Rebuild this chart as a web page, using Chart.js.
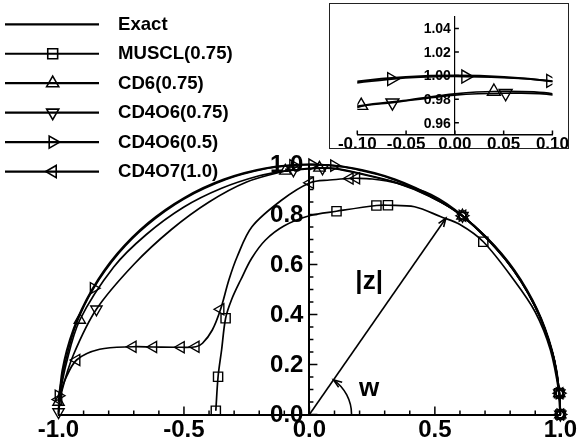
<!DOCTYPE html>
<html>
<head>
<meta charset="utf-8">
<script src="https://cdn.jsdelivr.net/npm/chart.js@4/dist/chart.umd.min.js"></script>
<style>
  html, body { margin: 0; padding: 0; background: #fff; }
  #wrap { position: relative; width: 578px; height: 445px; overflow: hidden; }
  #main { position: absolute; left: 0; top: 0; }
  #inset { position: absolute; left: 329px; top: 3px; }
</style>
</head>
<body>
<div id="wrap">
  <canvas id="main" width="578" height="445"></canvas>
  <canvas id="inset" width="240" height="146"></canvas>
</div>
<script>
// ---- data: curves in the (Re, Im) plane, plus the sampled points marked on each ----
const seriesNames = ['Exact', 'MUSCL(0.75)', 'CD6(0.75)', 'CD4O6(0.75)', 'CD4O6(0.5)', 'CD4O7(1.0)'];

const exactX = [1, 0.985, 0.940, 0.866, 0.766, 0.643, 0.5, 0.342, 0.174, 0, -0.174, -0.342, -0.5, -0.643, -0.766, -0.866, -0.940, -0.985, -1];
const exactY = [0, 0.174, 0.342, 0.5, 0.643, 0.766, 0.866, 0.940, 0.985, 1, 0.985, 0.940, 0.866, 0.766, 0.643, 0.5, 0.342, 0.174, 0];

const musclX = [1, 0.995, 0.96, 0.9, 0.815, 0.693, 0.6, 0.524, 0.419, 0.313, 0.267, 0.108, 0, -0.1, -0.175, -0.23, -0.274, -0.31, -0.334, -0.35, -0.364, -0.373];
const musclY = [0, 0.085, 0.26, 0.41, 0.538, 0.691, 0.76, 0.791, 0.831, 0.837, 0.836, 0.813, 0.795, 0.755, 0.698, 0.625, 0.538, 0.46, 0.385, 0.258, 0.151, 0.015];
const musclMarkX = [1, 0.995, 0.693, 0.313, 0.267, 0.108, -0.334, -0.364, -0.373];
const musclMarkY = [0, 0.085, 0.691, 0.837, 0.836, 0.813, 0.385, 0.151, 0.015];

const cd6X = [1, 0.996, 0.97, 0.90, 0.78, 0.61, 0.48, 0.35, 0.2, 0.1, 0.04, 0, -0.05, -0.096, -0.2, -0.35, -0.5, -0.65, -0.78, -0.915, -0.97, -1.0];
const cd6Y = [0, 0.085, 0.242, 0.432, 0.622, 0.795, 0.873, 0.927, 0.965, 0.9845, 0.9865, 0.9845, 0.979, 0.9745, 0.955, 0.905, 0.83, 0.72, 0.59, 0.378, 0.2, 0.05];
const cd6MarkX = [1, 0.996, 0.61, 0.04, -0.096, -0.915, -1.0];
const cd6MarkY = [0, 0.085, 0.795, 0.9865, 0.9745, 0.378, 0.05];

const cd4o6aX = [1, 0.996, 0.97, 0.90, 0.78, 0.61, 0.48, 0.35, 0.2, 0.1, 0.052, 0, -0.064, -0.1, -0.25, -0.4, -0.55, -0.7, -0.849, -0.94, -0.985, -1.0];
const cd4o6aY = [0, 0.085, 0.241, 0.431, 0.621, 0.795, 0.872, 0.925, 0.963, 0.9835, 0.985, 0.9835, 0.977, 0.973, 0.93, 0.85, 0.74, 0.6, 0.421, 0.24, 0.1, 0.01];
const cd4o6aMarkX = [1, 0.996, 0.61, 0.052, -0.064, -0.849, -1.0];
const cd4o6aMarkY = [0, 0.085, 0.795, 0.985, 0.977, 0.421, 0.01];

const cd4o6bX = [1, 0.997, 0.97, 0.90, 0.78, 0.61, 0.45, 0.30, 0.18, 0.098, 0.011, -0.065, -0.17, -0.33, -0.5, -0.65, -0.76, -0.86, -0.93, -0.975, -1.0];
const cd4o6bY = [0, 0.085, 0.242, 0.433, 0.624, 0.795, 0.891, 0.952, 0.982, 0.9955, 0.9992, 0.997, 0.984, 0.941, 0.862, 0.755, 0.645, 0.505, 0.36, 0.2, 0.075];
const cd4o6bMarkX = [1, 0.997, 0.61, 0.098, 0.011, -0.065, -0.86, -1.0];
const cd4o6bMarkY = [0, 0.085, 0.795, 0.9955, 0.9992, 0.997, 0.505, 0.075];

const cd4o7X = [1, 0.997, 0.97, 0.90, 0.78, 0.61, 0.485, 0.35, 0.25, 0.187, 0.161, 0.08, 0.003, -0.11, -0.229, -0.288, -0.321, -0.354, -0.387, -0.426, -0.453, -0.512, -0.622, -0.704, -0.836, -0.928, -0.974, -1.0];
const cd4o7Y = [0, 0.085, 0.242, 0.432, 0.622, 0.795, 0.88, 0.925, 0.942, 0.945, 0.944, 0.938, 0.927, 0.858, 0.751, 0.631, 0.538, 0.421, 0.338, 0.285, 0.271, 0.269, 0.27, 0.271, 0.261, 0.218, 0.138, 0.06];
const cd4o7MarkX = [1, 0.997, 0.61, 0.187, 0.161, 0.003, -0.354, -0.453, -0.512, -0.622, -0.704, -0.928, -1.0];
const cd4o7MarkY = [0, 0.085, 0.795, 0.945, 0.944, 0.927, 0.421, 0.271, 0.269, 0.27, 0.271, 0.218, 0.06];

// axis ticks
const mainXTicks = [-1, -0.5, 0, 0.5, 1];
const mainXMinor = [-0.9, -0.8, -0.7, -0.6, -0.4, -0.3, -0.2, -0.1, 0.1, 0.2, 0.3, 0.4, 0.6, 0.7, 0.8, 0.9];
const mainYTicks = [0, 0.2, 0.4, 0.6, 0.8, 1.0];
const mainYMinor = [0.05, 0.1, 0.15, 0.25, 0.3, 0.35, 0.45, 0.5, 0.55, 0.65, 0.7, 0.75, 0.85, 0.9, 0.95];
const insetXTicks = [-0.10, -0.05, 0.00, 0.05, 0.10];
const insetYTicks = [0.96, 0.98, 1.00, 1.02, 1.04];

// annotation: radius vector |z| and angle w
const arrowTip = [0.544, 0.785];
const arcRadius = 0.168;
const zLabelAt = [0.238, 0.53];
const wLabelAt = [0.238, 0.102];

// ---- building the datasets ----
const FONT = '"Liberation Sans", Arial, Helvetica, sans-serif';
const pts = (xs, ys) => xs.map((x, i) => ({ x: x, y: ys[i] }));

const series = [
  { name: seriesNames[0], x: exactX, y: exactY, mx: [], my: [], style: null, rot: 0 },
  { name: seriesNames[1], x: musclX, y: musclY, mx: musclMarkX, my: musclMarkY, style: 'rect', rot: 0 },
  { name: seriesNames[2], x: cd6X, y: cd6Y, mx: cd6MarkX, my: cd6MarkY, style: 'triangle', rot: 0 },
  { name: seriesNames[3], x: cd4o6aX, y: cd4o6aY, mx: cd4o6aMarkX, my: cd4o6aMarkY, style: 'triangle', rot: 180 },
  { name: seriesNames[4], x: cd4o6bX, y: cd4o6bY, mx: cd4o6bMarkX, my: cd4o6bMarkY, style: 'triangle', rot: 90 },
  { name: seriesNames[5], x: cd4o7X, y: cd4o7Y, mx: cd4o7MarkX, my: cd4o7MarkY, style: 'triangle', rot: 270 }
];

function buildDatasets(markerRadius, clip) {
  const ds = [];
  series.forEach((s, i) => {
    ds.push({
      label: s.name,
      data: pts(s.x, s.y),
      showLine: true,
      pointRadius: 0,
      borderColor: '#000',
      borderWidth: i === 0 ? 2 : 1.7,
      tension: 0.33,
      fill: false,
      clip: clip
    });
    if (s.style) {
      ds.push({
        label: s.name + ' markers',
        data: pts(s.mx, s.my),
        showLine: false,
        pointStyle: s.style,
        pointRotation: s.rot,
        pointRadius: markerRadius,
        pointBorderWidth: 1.4,
        pointBorderColor: '#000',
        pointBackgroundColor: 'rgba(0,0,0,0)',
        clip: clip
      });
    }
  });
  return ds;
}

function drawMarker(ctx, style, rot, x, y, r) {
  ctx.beginPath();
  if (style === 'rect') {
    const s = Math.SQRT1_2 * r;
    ctx.rect(x - s, y - s, 2 * s, 2 * s);
  } else {
    let a = rot * Math.PI / 180;
    for (let k = 0; k < 3; k++) {
      const px = x + Math.sin(a) * r, py = y - Math.cos(a) * r;
      if (k === 0) ctx.moveTo(px, py); else ctx.lineTo(px, py);
      a += 2 * Math.PI / 3;
    }
    ctx.closePath();
  }
  ctx.stroke();
}

// inward tick marks, plus the value labels to the left of the vertical axis at x = 0
function axisPlugin(xMaj, xMin, yMaj, yMin, lenMaj, lenMin, yFont, yGap, yDigits) {
  return {
    id: 'innerTicks',
    afterDatasetsDraw(chart) {
      const { ctx, scales: { x, y } } = chart;
      const base = y.getPixelForValue(y.min);
      const x0 = x.getPixelForValue(0);
      ctx.save();
      ctx.strokeStyle = '#000';
      ctx.lineWidth = 1.5;
      ctx.beginPath();
      xMaj.forEach(v => { const p = x.getPixelForValue(v); ctx.moveTo(p, base); ctx.lineTo(p, base - lenMaj); });
      xMin.forEach(v => { const p = x.getPixelForValue(v); ctx.moveTo(p, base); ctx.lineTo(p, base - lenMin); });
      yMaj.forEach(v => { const p = y.getPixelForValue(v); ctx.moveTo(x0, p); ctx.lineTo(x0 + lenMaj, p); });
      yMin.forEach(v => { const p = y.getPixelForValue(v); ctx.moveTo(x0, p); ctx.lineTo(x0 + lenMin, p); });
      ctx.stroke();
      ctx.fillStyle = '#000';
      ctx.font = 'bold ' + yFont + 'px ' + FONT;
      ctx.textAlign = 'right';
      ctx.textBaseline = 'middle';
      yMaj.forEach(v => { ctx.fillText(v.toFixed(yDigits), x0 - yGap, y.getPixelForValue(v) + 1); });
      ctx.restore();
    }
  };
}

const annotationPlugin = {
  id: 'radiusAngle',
  afterDatasetsDraw(chart) {
    const { ctx, scales: { x, y } } = chart;
    const cx = x.getPixelForValue(0), cy = y.getPixelForValue(0);
    const tx = x.getPixelForValue(arrowTip[0]), ty = y.getPixelForValue(arrowTip[1]);
    const ang = Math.atan2(cy - ty, tx - cx);
    ctx.save();
    ctx.strokeStyle = '#000';
    ctx.fillStyle = '#000';
    ctx.lineWidth = 1.6;
    // radius vector
    ctx.beginPath(); ctx.moveTo(cx, cy); ctx.lineTo(tx, ty); ctx.stroke();
    const head = (hx, hy, dir) => {
      ctx.beginPath();
      ctx.moveTo(hx - 9 * Math.cos(dir - 0.35), hy + 9 * Math.sin(dir - 0.35));
      ctx.lineTo(hx, hy);
      ctx.lineTo(hx - 9 * Math.cos(dir + 0.35), hy + 9 * Math.sin(dir + 0.35));
      ctx.stroke();
    };
    head(tx, ty, ang);
    // angle arc
    const R = x.getPixelForValue(arcRadius) - cx;
    ctx.beginPath(); ctx.arc(cx, cy, R, -ang, 0); ctx.stroke();
    const ax = cx + R * Math.cos(ang), ay = cy - R * Math.sin(ang);
    head(ax, ay, ang + Math.PI / 2);
    // labels
    ctx.font = 'bold 26px ' + FONT;
    ctx.textAlign = 'center';
    ctx.textBaseline = 'middle';
    ctx.fillText('|z|', x.getPixelForValue(zLabelAt[0]), y.getPixelForValue(zLabelAt[1]));
    ctx.fillText('w', x.getPixelForValue(wLabelAt[0]), y.getPixelForValue(wLabelAt[1]));
    ctx.restore();
  }
};

const legendPlugin = {
  id: 'lineLegend',
  afterDraw(chart) {
    const ctx = chart.ctx;
    ctx.save();
    ctx.strokeStyle = '#000';
    ctx.fillStyle = '#000';
    ctx.font = 'bold 18.6px ' + FONT;
    ctx.textAlign = 'left';
    ctx.textBaseline = 'middle';
    series.forEach((s, i) => {
      const ly = 24.3 + i * 29.45;
      ctx.lineWidth = 2.2;
      ctx.beginPath(); ctx.moveTo(5, ly); ctx.lineTo(99, ly); ctx.stroke();
      if (s.style) { ctx.lineWidth = 1.6; drawMarker(ctx, s.style, s.rot, 52.7, ly, 7); }
      ctx.fillText(s.name, 118, ly + 0.5);
    });
    ctx.restore();
  }
};

const frameInset = {
  id: 'insetFrame',
  afterDraw(chart) {
    const ctx = chart.ctx;
    ctx.save();
    ctx.strokeStyle = '#222';
    ctx.lineWidth = 1;
    ctx.strokeRect(0.5, 0.5, chart.width - 1, chart.height - 1);
    ctx.restore();
  }
};

Chart.defaults.font.family = FONT;
Chart.defaults.color = '#000';

// ---- main plot ----
new Chart(document.getElementById('main'), {
  type: 'scatter',
  data: { datasets: buildDatasets(6.5, false) },
  options: {
    responsive: false,
    animation: false,
    events: [],
    devicePixelRatio: 1,
    layout: { padding: { left: 58.5, right: 14.5, top: 164.5, bottom: 0 } },
    plugins: { legend: { display: false }, tooltip: { enabled: false } },
    scales: {
      x: {
        type: 'linear', position: 'bottom', min: -1, max: 1,
        afterBuildTicks: sc => { sc.ticks = mainXTicks.map(v => ({ value: v })); },
        afterFit: sc => { sc.height = 30.5; },
        ticks: { callback: v => v.toFixed(1), font: { size: 24, weight: 'bold' }, color: '#000', padding: 1, maxRotation: 0 },
        grid: { display: false, drawTicks: false },
        border: { display: true, color: '#000', width: 2 }
      },
      y: {
        type: 'linear', position: { x: 0 }, min: 0, max: 1,
        afterBuildTicks: sc => { sc.ticks = mainYTicks.map(v => ({ value: v })); },
        ticks: { display: false },
        grid: { display: false, drawTicks: false },
        border: { display: true, color: '#000', width: 2 }
      }
    }
  },
  plugins: [axisPlugin(mainXTicks, mainXMinor, mainYTicks, mainYMinor, 8, 4, 24, 6, 1), annotationPlugin, legendPlugin]
});

// ---- magnified view near the top of the circle ----
new Chart(document.getElementById('inset'), {
  type: 'scatter',
  data: { datasets: buildDatasets(7.5, undefined) },
  options: {
    responsive: false,
    animation: false,
    events: [],
    devicePixelRatio: 1,
    layout: { padding: { left: 28.3, right: 14.7, top: 13.7, bottom: 0 } },
    plugins: { legend: { display: false }, tooltip: { enabled: false } },
    scales: {
      x: {
        type: 'linear', position: 'bottom', min: -0.1, max: 0.1,
        afterBuildTicks: sc => { sc.ticks = insetXTicks.map(v => ({ value: v })); },
        afterFit: sc => { sc.height = 14.5; },
        ticks: { callback: v => v.toFixed(2), font: { size: 17, weight: 'bold' }, color: '#000', padding: 0, maxRotation: 0 },
        grid: { display: false, drawTicks: false },
        border: { display: true, color: '#000', width: 1.5 }
      },
      y: {
        type: 'linear', position: { x: 0 }, min: 0.95, max: 1.05,
        afterBuildTicks: sc => { sc.ticks = insetYTicks.map(v => ({ value: v })); },
        ticks: { display: false },
        grid: { display: false, drawTicks: false },
        border: { display: true, color: '#000', width: 1.2 }
      }
    }
  },
  plugins: [axisPlugin(insetXTicks, [], insetYTicks, [], 4, 2, 14, 4, 2), frameInset]
});
</script>
</body>
</html>
